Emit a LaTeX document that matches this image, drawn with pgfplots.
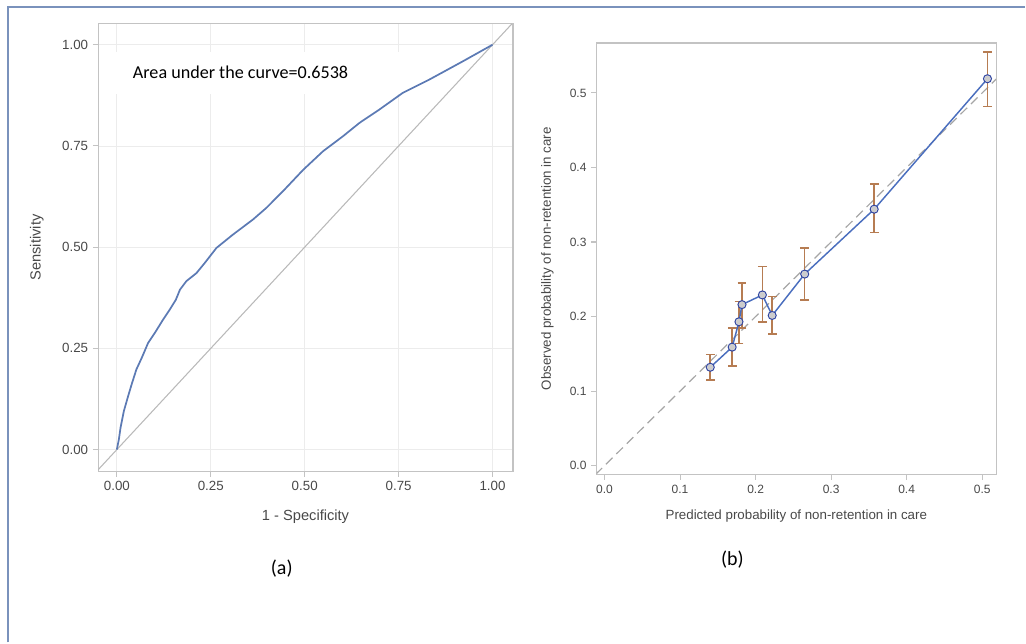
\documentclass[border=0pt]{standalone}
\usepackage{fontspec}
\setmainfont{Liberation Sans}
\newfontfamily\calibri{Carlito}
\usepackage{pgfplots}
\pgfplotsset{compat=1.18}

\definecolor{frameblue}{RGB}{122,146,188}
\definecolor{rocblue}{RGB}{92,122,180}
\definecolor{calblue}{RGB}{74,110,190}
\definecolor{markblue}{RGB}{52,72,160}
\definecolor{errbrown}{RGB}{182,124,82}
\definecolor{axgray}{RGB}{195,195,195}
\definecolor{txtgray}{RGB}{72,72,72}

\pgfplotsset{
  sasaxis/.style={
    scale only axis, anchor=south west,
    axis line style={axgray, line width=1pt},
    tick align=outside, xtick pos=bottom, ytick pos=left,
    major tick length=4pt,
    tick style={axgray, line width=0.8pt},
    ticklabel style={text=txtgray},
    label style={text=txtgray},
    /pgf/number format/assume math mode=true,
    /pgf/number format/fixed, /pgf/number format/fixed zerofill,
  }
}

\pgfplotstableread{
x y
0 0
0.0053 0.025
0.0098 0.054
0.0186 0.095
0.030 0.132
0.039 0.160
0.052 0.198
0.066 0.226
0.083 0.263
0.101 0.288
0.123 0.321
0.141 0.346
0.157 0.370
0.168 0.395
0.185 0.416
0.212 0.436
0.234 0.461
0.265 0.498
0.309 0.531
0.362 0.568
0.398 0.597
0.442 0.638
0.496 0.691
0.549 0.737
0.602 0.774
0.646 0.807
0.699 0.840
0.761 0.881
0.832 0.914
0.921 0.959
1.0 1.0
}\roc

\pgfplotstableread{
x y ep em
0.140 0.132 0.017 0.017
0.169 0.159 0.026 0.025
0.178 0.193 0.027 0.029
0.182 0.216 0.029 0.031
0.209 0.229 0.038 0.036
0.222 0.2015 0.0255 0.0245
0.265 0.257 0.035 0.0345
0.357 0.344 0.034 0.031
0.507 0.519 0.0355 0.0374
}\calib

\begin{document}
\begin{tikzpicture}[x=0.75pt,y=0.75pt]
\path (0,0) rectangle (1026,643);
\draw[frameblue, line width=1.3pt] (8,0) -- (8,636) -- (1026,636);

% (a) ROC curve
\begin{axis}[sasaxis,
  at={(73.7pt,128.5pt)}, width=311.25pt, height=336pt,
  xmin=-0.0497, xmax=1.054, ymin=-0.0536, ymax=1.052,
  xtick={0,0.25,0.5,0.75,1}, ytick={0,0.25,0.5,0.75,1},
  /pgf/number format/precision=2,
  grid=major, grid style={gray!15, line width=0.6pt},
  ticklabel style={font=\fontsize{10}{12}\selectfont},
  label style={font=\fontsize{11}{13}\selectfont},
  xlabel={1 - Specificity}, ylabel={Sensitivity},
  xlabel style={at={(axis description cs:0.5,-0.101)}, anchor=center},
  ylabel style={at={(axis description cs:-0.148,0.5)}, anchor=center},
]
\fill[white] (axis cs:-0.045,0.877) rectangle (axis cs:0.78,0.983);
\addplot[gray!55, line width=0.8pt] coordinates {(-0.0536,-0.0536) (1.052,1.052)};
\addplot[rocblue, line width=1.3pt] table[x=x,y=y] {\roc};
\node[anchor=west, font=\calibri\fontsize{13.6}{16}\selectfont, text=black, inner sep=0pt]
  at (axis cs:0.042,0.933) {Area under the curve=0.6538};
\end{axis}

% (b) calibration plot
\begin{axis}[sasaxis,
  at={(447.75pt,126pt)}, width=300pt, height=324pt,
  xmin=-0.0106, xmax=0.5185, ymin=-0.012, ymax=0.567,
  xtick={0,0.1,...,0.5}, ytick={0,0.1,...,0.5},
  /pgf/number format/precision=1,
  ticklabel style={font=\fontsize{9}{11}\selectfont},
  label style={font=\fontsize{10}{12}\selectfont},
  xlabel={Predicted probability of non-retention in care},
  ylabel={Observed probability of non-retention in care},
  xlabel style={at={(axis description cs:0.5,-0.097)}, anchor=center},
  ylabel style={at={(axis description cs:-0.1225,0.5)}, anchor=center},
]
\addplot[gray!70, line width=0.9pt, dash pattern=on 7pt off 4pt] coordinates {(-0.012,-0.012) (0.5185,0.5185)};
\addplot[only marks, mark=none,
  error bars/.cd, y dir=both, y explicit,
  error bar style={errbrown, line width=1.2pt},
  error mark options={errbrown, line width=1.2pt, mark size=3.3pt, rotate=90}]
  table[x=x, y=y, y error plus=ep, y error minus=em] {\calib};
\addplot[calblue, line width=1.1pt, mark=*, mark size=3pt,
  mark options={draw=markblue, fill=white, fill opacity=0.8, line width=0.8pt}]
  table[x=x,y=y] {\calib};
\end{axis}

\node[font=\calibri\fontsize{15}{18}\selectfont] at (282,74) {(a)};
\node[font=\calibri\fontsize{15}{18}\selectfont] at (733,83) {(b)};
\end{tikzpicture}
\end{document}
